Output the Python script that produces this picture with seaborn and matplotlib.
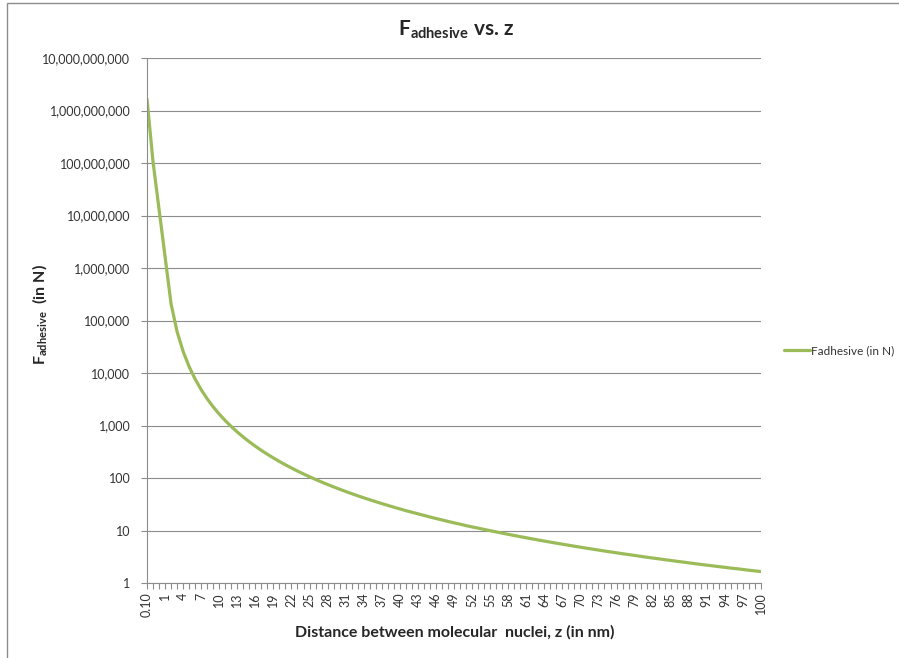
import pandas as pd
import matplotlib.pyplot as plt
import seaborn as sns
from matplotlib.ticker import FuncFormatter, LogLocator, NullLocator
from matplotlib.patches import Rectangle

plt.switch_backend('Agg')

# --------------------------
# Data
# --------------------------
z_labels = ['0.10', '0.25', '0.50'] + [str(i) for i in range(1, 101)]

f_adhesive = [
    1.65e9, 1.06e8, 1.32e7,
    1650000, 206250, 61111, 25781, 13200, 7639, 4810, 3223, 2263, 1650,
    1240, 954.9, 751.0, 601.3, 488.9, 402.8, 335.8, 282.9, 240.6, 206.3,
    178.2, 155.0, 135.6, 119.4, 105.6, 93.9, 83.8, 75.2, 67.7, 61.1,
    55.4, 50.4, 45.9, 42.0, 38.5, 35.4, 32.6, 30.1, 27.8, 25.8,
    23.9, 22.3, 20.8, 19.4, 18.1, 16.95, 15.9, 14.9, 14.0, 13.2,
    12.4, 11.7, 11.1, 10.5, 9.92, 9.40, 8.91, 8.46, 8.03, 7.64,
    7.27, 6.92, 6.60, 6.29, 6.01, 5.74, 5.49, 5.25, 5.02, 4.81,
    4.61, 4.42, 4.24, 4.07, 3.91, 3.76, 3.61, 3.48, 3.35, 3.22,
    3.10, 2.99, 2.89, 2.78, 2.69, 2.59, 2.51, 2.42, 2.34, 2.26,
    2.19, 2.12, 2.05, 1.99, 1.92, 1.87, 1.81, 1.75, 1.70, 1.65,
]

series_name = 'Fadhesive (in N)'
line_color = '#9BBB59'
grid_color = '#8C8C8C'

df = pd.DataFrame({'z': z_labels, 'F': f_adhesive})

# --------------------------
# Style
# --------------------------
sns.set_style('white')
plt.rcParams['font.family'] = ['Lato', 'DejaVu Sans']
plt.rcParams['mathtext.fontset'] = 'custom'
plt.rcParams['mathtext.rm'] = 'Lato'
plt.rcParams['mathtext.bf'] = 'Lato:bold'
plt.rcParams['mathtext.it'] = 'Lato:italic'

fig = plt.figure(figsize=(8.99, 6.58), dpi=100)
ax = fig.add_axes([147 / 899, 75 / 658, 614 / 899, 525 / 658])

sns.lineplot(data=df, x='z', y='F', ax=ax, color=line_color, linewidth=2.3,
             sort=False, label=series_name)

# --------------------------
# Axes
# --------------------------
ax.set_yscale('log')
ax.set_ylim(1, 1e10)
ax.set_xlim(0, len(z_labels) - 1)
ax.yaxis.set_major_locator(LogLocator(base=10, numticks=20))
ax.yaxis.set_minor_locator(NullLocator())
ax.yaxis.set_major_formatter(FuncFormatter(lambda v, p: f'{v:,.0f}'))

ax.set_xticks(range(len(z_labels)))
ax.set_xticklabels([lab if i % 3 == 0 else '' for i, lab in enumerate(z_labels)],
                   rotation=90, fontsize=9, color='#333333')
ax.tick_params(axis='y', labelsize=9, labelcolor='#333333', pad=8)
ax.tick_params(axis='x', pad=3)
ax.tick_params(axis='both', which='major', direction='out', length=4,
               width=0.8, color=grid_color, bottom=True, left=True)

ax.grid(axis='y', color=grid_color, linewidth=0.8)
ax.grid(axis='x', visible=False)
for side in ['top', 'right']:
    ax.spines[side].set_visible(False)
for side in ['left', 'bottom']:
    ax.spines[side].set_color(grid_color)
    ax.spines[side].set_linewidth(0.8)

ax.set_xlabel('')
ax.set_ylabel('')

# --------------------------
# Titles and labels
# --------------------------
fig.text(456 / 899, 1 - 30 / 658, r'$\mathbf{F_{adhesive}}$ vs. z',
         ha='center', va='center', fontsize=15, fontweight='bold')
fig.text(455 / 899, 1 - 632 / 658, 'Distance between molecular  nuclei, z (in nm)',
         ha='center', va='center', fontsize=11.5, fontweight='bold')
fig.text(40 / 899, 1 - 315 / 658, r'$\mathbf{F_{adhesive}}$  (in N)',
         ha='center', va='center', rotation=90, fontsize=11.5, fontweight='bold')

leg = ax.legend(loc='center left', bbox_to_anchor=(778 / 899, 1 - 351 / 658),
                bbox_transform=fig.transFigure, frameon=False, fontsize=8.5,
                handlelength=2.2, handletextpad=0.1, borderpad=0)
for t in leg.get_texts():
    t.set_color('#333333')

# chart area border (right and bottom edges fall outside the crop)
fig.patches.append(Rectangle((7 / 899, -0.05), 1.2, 1 - 3 / 658 + 0.05,
                             transform=fig.transFigure, fill=False,
                             edgecolor='#8C8C8C', linewidth=1))

fig.savefig('out.png', dpi=100)
plt.close(fig)
